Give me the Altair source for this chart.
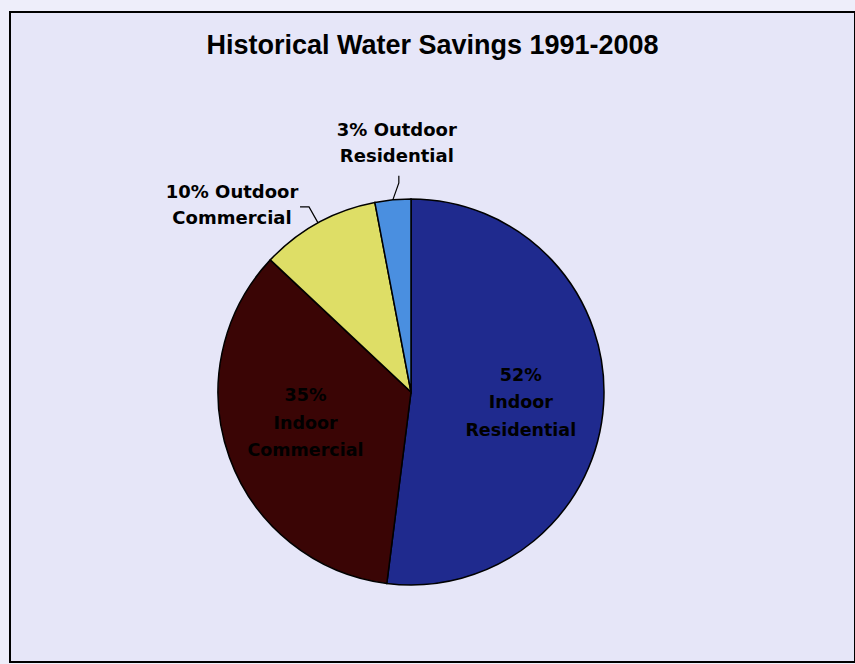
import math
import altair as alt
import pandas as pd

# ---- data ----
categories = ["Indoor Residential", "Indoor Commercial", "Outdoor Commercial", "Outdoor Residential"]
shares = [52, 35, 10, 3]
label_texts = ["52%\nIndoor\nResidential", "35%\nIndoor\nCommercial",
               "10% Outdoor\nCommercial", "3% Outdoor\nResidential"]
colors = ["#1f2a8e", "#3a0505", "#dede66", "#4a8fe0"]
title_text = "Historical Water Savings 1991-2008"

# ---- layout (page coords -> view coords) ----
PAD_L, PAD_T = 10, 12
W, H = 845, 650
CX, CY = 411 - PAD_L, 392 - PAD_T
R = 193

df = pd.DataFrame({"category": categories, "value": shares, "order": range(len(shares))})

# mid angles derived from the data
total = sum(shares)
cum = 0
mids = []
for v in shares:
    mids.append((cum + v / 2) / total * 2 * math.pi)
    cum += v

# label placement: radius along mid angle + nudge (y of first line)
label_r = [110, 110, R, R]
nudge = [(0, -23), (-2, -33), (-86, -30), (4, -69)]
lab = pd.DataFrame({
    "text": label_texts,
    "x": [CX + r * math.sin(a) + d[0] for a, r, d in zip(mids, label_r, nudge)],
    "y": [CY - r * math.cos(a) + d[1] for a, r, d in zip(mids, label_r, nudge)],
    "kind": ["in", "in", "out", "out"],
})

# leader lines for outside labels
leader_offsets = {2: [(0, 0), (-9, -16), (-18, -16)], 3: [(0, 0), (6, -17), (6, -24)]}
rows = []
for i, offs in leader_offsets.items():
    ex = CX + R * math.sin(mids[i])
    ey = CY - R * math.cos(mids[i])
    for k, (ox, oy) in enumerate(offs):
        rows.append({"id": i, "k": k, "x": ex + ox, "y": ey + oy})
leaders = pd.DataFrame(rows)

pie = alt.Chart(df).mark_arc(outerRadius=R, stroke="black", strokeWidth=1.5).encode(
    theta=alt.Theta("value:Q", stack=True),
    order=alt.Order("order:Q"),
    color=alt.Color("category:N", scale=alt.Scale(domain=categories, range=colors), legend=None),
    x=alt.value(CX),
    y=alt.value(CY),
)

text_in = alt.Chart(lab).transform_filter(alt.datum.kind == "in").mark_text(
    font="DejaVu Sans", fontWeight="bold", fontSize=17.5, lineBreak="\n", lineHeight=27.5,
    align="center", baseline="middle", color="black",
).encode(x=alt.X("x:Q", scale=None), y=alt.Y("y:Q", scale=None), text="text:N")

text_out = alt.Chart(lab).transform_filter(alt.datum.kind == "out").mark_text(
    font="DejaVu Sans", fontWeight="bold", fontSize=18, lineBreak="\n", lineHeight=26.5,
    align="center", baseline="middle", color="black",
).encode(x=alt.X("x:Q", scale=None), y=alt.Y("y:Q", scale=None), text="text:N")

lines = alt.Chart(leaders).mark_line(color="black", strokeWidth=1.2).encode(
    x=alt.X("x:Q", scale=None), y=alt.Y("y:Q", scale=None),
    detail="id:N", order="k:Q",
)

chart = alt.layer(pie, lines, text_in, text_out).properties(
    width=W, height=H,
    title=alt.Title(title_text, font="Liberation Sans", fontWeight="bold", fontSize=27,
                    color="black", anchor="middle", dy=52),
    autosize=alt.AutoSizeParams(type="none"),
    padding={"left": PAD_L, "top": PAD_T, "right": 0, "bottom": 2},
    background="#eeeefa",
).configure_view(
    stroke="black", strokeWidth=2, fill="#e6e6f8",
)

chart.save("out.html", embed_options={"renderer": "svg", "actions": False})
